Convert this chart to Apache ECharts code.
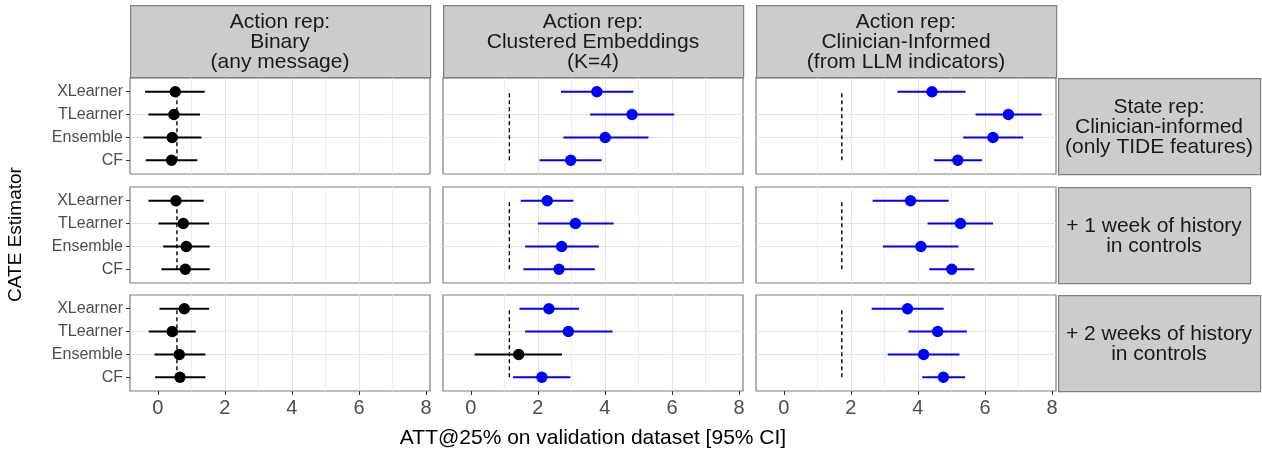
<!DOCTYPE html>
<html><head><meta charset="utf-8">
<script src="https://cdn.jsdelivr.net/npm/echarts@6/dist/echarts.min.js"></script>
<style>html,body{margin:0;padding:0;background:#fff}#c{width:1262px;height:454px}</style>
</head><body><div id="c"></div>
<script>
// Categories, bottom to top
const CATEGORIES = ['CF', 'Ensemble', 'TLearner', 'XLearner'];
const X_TICKS = [0, 2, 4, 6, 8];
const X_MINOR = [1, 3, 5, 7];
const COL_LABELS = ['Action rep:\nBinary\n(any message)', 'Action rep:\nClustered Embeddings\n(K=4)', 'Action rep:\nClinician-Informed\n(from LLM indicators)'];
const ROW_LABELS = ['State rep:\nClinician-informed\n(only TIDE features)', '+ 1 week of history\nin controls', '+ 2 weeks of history\nin controls'];
const X_TITLE = 'ATT@25% on validation dataset [95% CI]';
const Y_TITLE = 'CATE Estimator';

// Baselines (dashed) per action representation
const BASELINE = [0.57, 1.15, 1.73];

// Row 1: only TIDE features  (order CF, Ensemble, TLearner, XLearner)
const tide_binary_est = [0.41, 0.43, 0.48, 0.52];
const tide_binary_lo  = [-0.36, -0.43, -0.28, -0.38];
const tide_binary_hi  = [1.18, 1.30, 1.26, 1.40];
const tide_cluster_est = [2.98, 4.01, 4.81, 3.76];
const tide_cluster_lo  = [2.05, 2.76, 3.56, 2.69];
const tide_cluster_hi  = [3.90, 5.30, 6.07, 4.85];
const tide_clin_est = [5.19, 6.24, 6.70, 4.42];
const tide_clin_lo  = [4.48, 5.35, 5.72, 3.39];
const tide_clin_hi  = [5.91, 7.14, 7.69, 5.42];
// Row 2: + 1 week of history
const wk1_binary_est = [0.82, 0.85, 0.76, 0.54];
const wk1_binary_lo  = [0.11, 0.16, 0.02, -0.28];
const wk1_binary_hi  = [1.55, 1.55, 1.53, 1.37];
const wk1_cluster_est = [2.63, 2.71, 3.12, 2.28];
const wk1_cluster_lo  = [1.57, 1.62, 2.00, 1.49];
const wk1_cluster_hi  = [3.70, 3.82, 4.26, 3.06];
const wk1_clin_est = [5.01, 4.09, 5.27, 3.78];
const wk1_clin_lo  = [4.34, 2.96, 4.29, 2.65];
const wk1_clin_hi  = [5.68, 5.21, 6.24, 4.92];
// Row 3: + 2 weeks of history
const wk2_binary_est = [0.66, 0.64, 0.43, 0.79];
const wk2_binary_lo  = [-0.08, -0.10, -0.27, 0.05];
const wk2_binary_hi  = [1.42, 1.42, 1.13, 1.53];
const wk2_cluster_est = [2.12, 1.43, 2.91, 2.33];
const wk2_cluster_lo  = [1.26, 0.11, 1.62, 1.45];
const wk2_cluster_hi  = [2.97, 2.72, 4.23, 3.23];
const wk2_clin_est = [4.76, 4.17, 4.59, 3.69];
const wk2_clin_lo  = [4.13, 3.10, 3.72, 2.62];
const wk2_clin_hi  = [5.41, 5.24, 5.46, 4.77];

const PANELS = [
  [[tide_binary_est, tide_binary_lo, tide_binary_hi], [tide_cluster_est, tide_cluster_lo, tide_cluster_hi], [tide_clin_est, tide_clin_lo, tide_clin_hi]],
  [[wk1_binary_est, wk1_binary_lo, wk1_binary_hi], [wk1_cluster_est, wk1_cluster_lo, wk1_cluster_hi], [wk1_clin_est, wk1_clin_lo, wk1_clin_hi]],
  [[wk2_binary_est, wk2_binary_lo, wk2_binary_hi], [wk2_cluster_est, wk2_cluster_lo, wk2_cluster_hi], [wk2_clin_est, wk2_clin_lo, wk2_clin_hi]]
];

// Layout
const FONT = 'Liberation Sans';
const COL_X = [130, 443, 756];
const PW = 300;
const ROW_Y = [78, 187, 295];
const PH = 96;
const STRIP_TOP = 5, STRIP_H = 72;
const RSTRIP_X = 1058, RSTRIP_W = [202, 192, 202];
const XMIN = -0.83, XMAX = 8.12, YMIN = -0.6, YMAX = 3.6;
const BORDER = '#7f7f7f';

const grids = [], xAxes = [], yAxes = [], series = [], graphics = [];
let idx = 0;
for (let r = 0; r < 3; r++) {
  for (let c = 0; c < 3; c++) {
    const bottom = r === 2, left = c === 0;
    grids.push({left: COL_X[c], top: ROW_Y[r], width: PW, height: PH, show: true,
      backgroundColor: '#fff', borderColor: BORDER, borderWidth: 1.2});
    xAxes.push({type: 'value', gridIndex: idx, min: XMIN, max: XMAX, minInterval: 2, maxInterval: 2,
      position: 'bottom',
      axisLine: {show: false, onZero: false},
      axisTick: {show: bottom, customValues: X_TICKS, length: 4, lineStyle: {color: '#333333', width: 1}},
      axisLabel: {show: bottom, customValues: X_TICKS, color: '#4d4d4d', fontSize: 20, fontFamily: FONT, margin: 7},
      splitLine: {show: true, showMinLine: false, showMaxLine: false, lineStyle: {color: '#e4e4e4', width: 1.1}}
    });
    yAxes.push({type: 'value', gridIndex: idx, min: YMIN, max: YMAX, minInterval: 1, maxInterval: 1,
      position: 'left',
      axisLine: {show: false, onZero: false},
      axisTick: {show: left, customValues: [0, 1, 2, 3], length: 4, lineStyle: {color: '#333333', width: 1}},
      axisLabel: {show: left, customValues: [0, 1, 2, 3], formatter: v => CATEGORIES[Math.round(v)] || '',
        color: '#4d4d4d', fontSize: 16, fontFamily: FONT, margin: 7},
      splitLine: {show: true, showMinLine: false, showMaxLine: false, lineStyle: {color: '#e4e4e4', width: 1.1}}
    });
    // minor vertical grid lines
    series.push({type: 'custom', xAxisIndex: idx, yAxisIndex: idx, silent: true, z: 1,
      data: X_MINOR.map(v => [v]),
      renderItem(params, api) {
        const cs = params.coordSys;
        const x = api.coord([api.value(0), 0])[0];
        return {type: 'line', shape: {x1: x, y1: cs.y, x2: x, y2: cs.y + cs.height},
          style: {stroke: '#ececec', lineWidth: 1}};
      }
    });
    const base = BASELINE[c];
    // dashed baseline
    series.push({type: 'line', xAxisIndex: idx, yAxisIndex: idx, silent: true, z: 2,
      data: [[base, 0], [base, CATEGORIES.length - 1]], symbol: 'none',
      lineStyle: {color: '#000', width: 1.4, type: [4, 3]}});
    const [est, lo, hi] = PANELS[r][c];
    series.push({type: 'custom', xAxisIndex: idx, yAxisIndex: idx, silent: true, z: 3,
      data: est.map((e, k) => [e, k, lo[k], hi[k]]),
      renderItem(params, api) {
        const y = api.value(1);
        const p = api.coord([api.value(0), y]);
        const a = api.coord([api.value(2), y]);
        const b = api.coord([api.value(3), y]);
        const col = api.value(2) > base ? '#0000ff' : '#000000';
        return {type: 'group', children: [
          {type: 'line', shape: {x1: a[0], y1: a[1], x2: b[0], y2: b[1]}, style: {stroke: col, lineWidth: 2}},
          {type: 'circle', shape: {cx: p[0], cy: p[1], r: 5.7}, style: {fill: col}}
        ]};
      }
    });
    idx++;
  }
}

// Column strips
for (let c = 0; c < 3; c++) {
  graphics.push({type: 'rect', left: COL_X[c], top: STRIP_TOP, shape: {width: PW, height: STRIP_H},
    style: {fill: '#cccccc', stroke: BORDER, lineWidth: 1.2}});
  graphics.push({type: 'text', x: COL_X[c] + PW / 2, y: STRIP_TOP + STRIP_H / 2 + 1,
    style: {text: COL_LABELS[c], align: 'center', verticalAlign: 'middle', fill: '#1a1a1a',
      fontSize: 21, lineHeight: 20, fontFamily: FONT}});
}
// Row strips
for (let r = 0; r < 3; r++) {
  graphics.push({type: 'rect', left: RSTRIP_X, top: ROW_Y[r], shape: {width: RSTRIP_W[r], height: PH},
    style: {fill: '#cccccc', stroke: BORDER, lineWidth: 1.2}});
  graphics.push({type: 'text', x: RSTRIP_X + RSTRIP_W[r] / 2, y: ROW_Y[r] + PH / 2 + 1,
    style: {text: ROW_LABELS[r], align: 'center', verticalAlign: 'middle', fill: '#1a1a1a',
      fontSize: 21, lineHeight: 20, fontFamily: FONT}});
}
// Axis titles
graphics.push({type: 'text', x: (COL_X[0] + COL_X[2] + PW) / 2, y: 438,
  style: {text: X_TITLE, align: 'center', verticalAlign: 'middle', fill: '#000', fontSize: 21, fontFamily: FONT}});
graphics.push({type: 'text', x: 16, y: (ROW_Y[0] + ROW_Y[2] + PH) / 2, rotation: Math.PI / 2,
  style: {text: Y_TITLE, align: 'center', verticalAlign: 'middle', fill: '#000', fontSize: 19, fontFamily: FONT}});

const chart = echarts.init(document.getElementById('c'), null, {renderer: 'canvas'});
chart.setOption({
  animation: false,
  backgroundColor: '#fff',
  grid: grids, xAxis: xAxes, yAxis: yAxes, series: series, graphic: graphics
});
</script></body></html>
